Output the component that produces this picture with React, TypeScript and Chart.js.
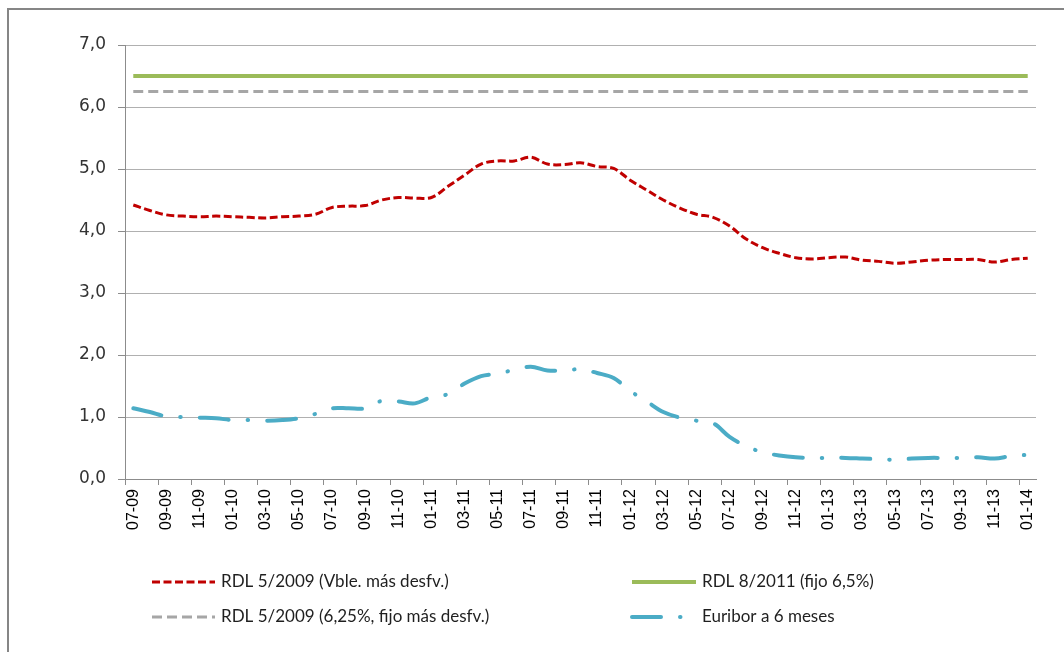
import React, { useEffect, useRef } from 'react';
import { Chart, registerables } from 'chart.js';

Chart.register(...registerables);

const monthLabels = [
  '07-09', '08-09', '09-09', '10-09', '11-09', '12-09',
  '01-10', '02-10', '03-10', '04-10', '05-10', '06-10', '07-10', '08-10', '09-10', '10-10', '11-10', '12-10',
  '01-11', '02-11', '03-11', '04-11', '05-11', '06-11', '07-11', '08-11', '09-11', '10-11', '11-11', '12-11',
  '01-12', '02-12', '03-12', '04-12', '05-12', '06-12', '07-12', '08-12', '09-12', '10-12', '11-12', '12-12',
  '01-13', '02-13', '03-13', '04-13', '05-13', '06-13', '07-13', '08-13', '09-13', '10-13', '11-13', '12-13',
  '01-14',
];

const rdlVariable = [
  4.42, 4.33, 4.26, 4.24, 4.23, 4.24, 4.23, 4.22, 4.21, 4.23,
  4.24, 4.27, 4.38, 4.40, 4.41, 4.50, 4.54, 4.53, 4.54, 4.72,
  4.90, 5.08, 5.13, 5.13, 5.19, 5.08, 5.07, 5.10, 5.04, 5.01,
  4.82, 4.66, 4.50, 4.37, 4.27, 4.22, 4.08, 3.87, 3.73, 3.64,
  3.57, 3.55, 3.57, 3.58, 3.53, 3.51, 3.48, 3.50, 3.53, 3.54,
  3.54, 3.54, 3.50, 3.54, 3.56,
];

const euribor6m = [
  1.14, 1.08, 1.01, 1.00, 0.99, 0.98, 0.95, 0.95, 0.94, 0.95,
  0.98, 1.05, 1.14, 1.14, 1.14, 1.26, 1.25, 1.22, 1.32, 1.37,
  1.54, 1.66, 1.70, 1.76, 1.81, 1.75, 1.75, 1.77, 1.71, 1.63,
  1.42, 1.25, 1.08, 0.99, 0.94, 0.90, 0.68, 0.53, 0.43, 0.38,
  0.35, 0.34, 0.34, 0.34, 0.33, 0.32, 0.31, 0.33, 0.34, 0.34,
  0.34, 0.35, 0.33, 0.37, 0.39,
];

const rdlFixedRate = 6.5;
const rdlFixedSpreadRate = 6.25;

const seriesNames = [
  'RDL 5/2009 (Vble. más desfv.)',
  'RDL 8/2011 (fijo 6,5%)',
  'RDL 5/2009 (6,25%, fijo más desfv.)',
  'Euribor a 6 meses',
];

const yTickValues = [0, 1, 2, 3, 4, 5, 6, 7];

const styles = [
  { color: '#C00000', width: 3, dash: [8, 3.5], cap: 'butt' as CanvasLineCap },
  { color: '#9BBB59', width: 4, dash: [] as number[], cap: 'butt' as CanvasLineCap },
  { color: '#A6A6A6', width: 3, dash: [10, 5], cap: 'butt' as CanvasLineCap },
  { color: '#4BACC6', width: 4, dash: [29, 19, 0.5, 19], cap: 'round' as CanvasLineCap },
];

const legendLayout = [
  { x1: 152, x2: 215, y: 582, tx: 221 },
  { x1: 632, x2: 696, y: 582, tx: 702 },
  { x1: 152, x2: 215, y: 617, tx: 221 },
  { x1: 632, x2: 682, y: 617, tx: 702 },
];

const framePlugin = {
  id: 'frameAndLegend',
  afterDraw(chart: any) {
    const ctx: CanvasRenderingContext2D = chart.ctx;
    ctx.save();
    ctx.strokeStyle = '#868686';
    ctx.lineWidth = 2;
    ctx.setLineDash([]);
    ctx.beginPath();
    ctx.moveTo(8, 652);
    ctx.lineTo(8, 9);
    ctx.lineTo(1064, 9);
    ctx.stroke();

    seriesNames.forEach((name, i) => {
      const s = styles[i];
      const l = legendLayout[i];
      ctx.strokeStyle = s.color;
      ctx.lineWidth = s.width;
      ctx.lineCap = s.cap;
      ctx.setLineDash(s.dash);
      ctx.beginPath();
      ctx.moveTo(l.x1, l.y);
      ctx.lineTo(l.x2, l.y);
      ctx.stroke();
      ctx.setLineDash([]);
      ctx.fillStyle = '#1f1f1f';
      ctx.font = '17px Lato';
      ctx.textAlign = 'left';
      ctx.textBaseline = 'middle';
      ctx.fillText(name, l.tx, l.y);
    });
    ctx.restore();
  },
};

export default function App() {
  const ref = useRef<HTMLCanvasElement>(null);

  useEffect(() => {
    document.body.style.margin = '0';
    document.body.style.overflow = 'hidden';
    const canvas = ref.current;
    if (!canvas) return;
    const mk = (i: number, data: number[]) => ({
      label: seriesNames[i],
      data,
      borderColor: styles[i].color,
      backgroundColor: styles[i].color,
      borderWidth: styles[i].width,
      borderDash: styles[i].dash,
      borderCapStyle: styles[i].cap,
      pointRadius: 0,
      pointHoverRadius: 0,
      tension: 0.35,
      fill: false,
    });
    const chart = new Chart(canvas, {
      type: 'line',
      data: {
        labels: monthLabels,
        datasets: [
          mk(2, monthLabels.map(() => rdlFixedSpreadRate)),
          mk(1, monthLabels.map(() => rdlFixedRate)),
          mk(0, rdlVariable),
          mk(3, euribor6m),
        ],
      },
      options: {
        responsive: false,
        animation: false,
        devicePixelRatio: 1,
        layout: { padding: { top: 45, right: 28, bottom: 0, left: 0 } },
        plugins: {
          legend: { display: false },
          tooltip: { enabled: false },
        },
        scales: {
          x: {
            type: 'category',
            offset: true,
            afterFit: (scale: any) => { scale.height = 173; },
            grid: {
              offset: true,
              drawOnChartArea: false,
              drawTicks: true,
              tickLength: 6,
              color: (c: any) => (c.index % 2 === 0 ? '#8C8C8C' : 'rgba(0,0,0,0)'),
            },
            border: { display: true, color: '#8C8C8C', width: 1 },
            ticks: {
              autoSkip: false,
              maxRotation: 90,
              minRotation: 90,
              padding: 4,
              color: '#000000',
              font: { family: 'Liberation Sans', size: 16 },
              callback: (_v: any, i: number) => (i % 2 === 0 ? monthLabels[i] : ''),
            },
          },
          y: {
            min: 0,
            max: 7,
            afterFit: (scale: any) => { scale.width = 125; },
            afterBuildTicks: (scale: any) => { scale.ticks = yTickValues.map((v) => ({ value: v })); },
            grid: {
              color: '#B0B0B0',
              lineWidth: 1,
              tickLength: 7,
              tickColor: '#8C8C8C',
            },
            border: { display: true, color: '#8C8C8C', width: 1 },
            ticks: {
              padding: 12,
              color: '#333333',
              font: { family: 'DejaVu Sans', size: 17 },
              callback: (v: any) => Number(v).toFixed(1).replace('.', ','),
            },
          },
        },
      },
      plugins: [framePlugin],
    });
    return () => chart.destroy();
  }, []);

  return <canvas ref={ref} width={1064} height={652} style={{ display: 'block' }} />;
}
